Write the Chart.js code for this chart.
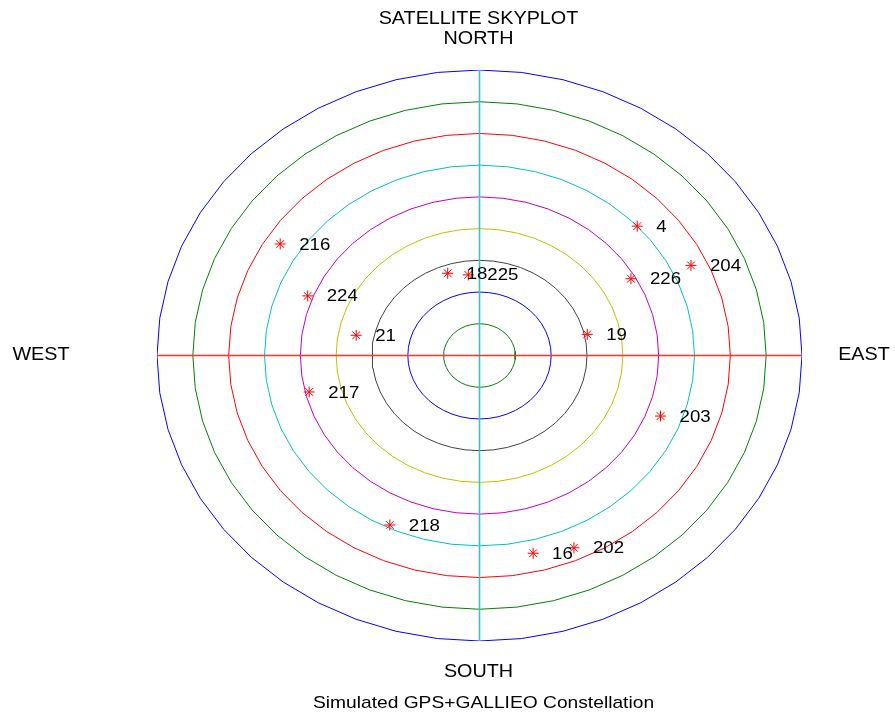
<!DOCTYPE html>
<html>
<head>
<meta charset="utf-8">
<script src="https://cdn.jsdelivr.net/npm/chart.js@4/dist/chart.umd.min.js"></script>
<style>
  html, body { margin: 0; padding: 0; background: #ffffff; }
  canvas { display: block; }
</style>
</head>
<body>
<canvas id="sky" width="895" height="715"></canvas>
<script>
// Satellite PRNs with azimuth (deg from north, clockwise) and elevation (deg)
const satIds      = ['216', '224', '21', '18', '225', '4', '204', '226', '19', '217', '218', '203', '16', '202'];
const satAzimuth  = [302.3, 291.4, 280.5, 341.1, 353.0, 47.2, 64.3, 60.2, 77.5, 256.4, 205.1, 110.7, 166.5, 156.5];
const satElevation= [24.2, 38.5, 55.0, 62.6, 64.4, 30.0, 24.5, 41.3, 59.2, 41.1, 31.0, 36.0, 25.9, 23.9];

// Elevation rings, from zenith outwards (ring radius = 90 - elevation, in tens of degrees)
const ringElevations = [80, 70, 60, 50, 40, 30, 20, 10, 0];
const ringColors = ['#008000', '#0000ff', '#404040', '#c0c000', '#c000c0', '#00c0c0', '#ff0000', '#008000', '#0000ff'];

// Compass axes: east-west and north-south, in plot units
const axisLines = [
  { x: [-9, 9], y: [0, 0], color: '#ff3030' },
  { x: [0, 0], y: [-9, 9], color: '#30c8c8' }
];

const STRETCH = 1.13; // horizontal stretch of the whole plot (ellipses and text)

function toXY(az, el) {
  const r = (90 - el) / 10;
  const a = az * Math.PI / 180;
  return { x: r * Math.sin(a), y: r * Math.cos(a) };
}

const datasets = [];
ringElevations.forEach((el, i) => {
  const pts = [];
  for (let az = 0; az < 360; az += 7.5) pts.push(toXY(az, el));
  pts.push(pts[0]);
  datasets.push({
    data: pts, showLine: true, borderColor: ringColors[i], backgroundColor: ringColors[i],
    borderWidth: 1, pointRadius: 0, fill: false, tension: 0, order: 3
  });
});
axisLines.forEach(a => {
  datasets.push({
    data: [{ x: a.x[0], y: a.y[0] }, { x: a.x[1], y: a.y[1] }],
    showLine: true, borderColor: a.color, backgroundColor: a.color,
    borderWidth: 1.6, pointRadius: 0, fill: false, order: 2
  });
});
// Satellites, drawn on top
datasets.push({
  data: satAzimuth.map((az, i) => toXY(az, satElevation[i])),
  showLine: false, pointStyle: 'star', pointRadius: 5.5, borderColor: '#ff0000',
  pointBorderColor: '#ff0000', pointBorderWidth: 1, pointBackgroundColor: '#ff0000', order: 1
});
const satIndex = datasets.length - 1;

function stretchedText(ctx, text, x, y, align, size) {
  ctx.save();
  ctx.font = size + 'px "Liberation Sans", Arial, sans-serif';
  ctx.fillStyle = '#000000';
  ctx.textBaseline = 'middle';
  ctx.translate(x, y);
  ctx.scale(STRETCH, 1);
  const w = ctx.measureText(text).width;
  const dx = align === 'center' ? -w / 2 : 0;
  ctx.textAlign = 'left';
  ctx.fillText(text, dx, 0);
  ctx.restore();
}

const labelsPlugin = {
  id: 'skyLabels',
  afterDatasetsDraw(chart) {
    const ctx = chart.ctx, sx = chart.scales.x, sy = chart.scales.y;
    const meta = chart.getDatasetMeta(satIndex);
    meta.data.forEach((pt, i) => {
      stretchedText(ctx, satIds[i], pt.x + 19, pt.y + 1, 'left', 16.5);
    });
    const cx = sx.getPixelForValue(0);
    const cy = sy.getPixelForValue(0);
    stretchedText(ctx, 'SATELLITE SKYPLOT', cx - 1, 19, 'center', 17.5);
    stretchedText(ctx, 'NORTH', cx - 1, 39, 'center', 17.5);
    stretchedText(ctx, 'WEST', 41, cy, 'center', 17.5);
    stretchedText(ctx, 'EAST', 864, cy, 'center', 17.5);
    stretchedText(ctx, 'SOUTH', cx - 1, 672, 'center', 17.5);
    stretchedText(ctx, 'Simulated GPS+GALLIEO Constellation', cx + 4, 703, 'center', 17);
  }
};

new Chart(document.getElementById('sky'), {
  type: 'scatter',
  data: { datasets },
  options: {
    responsive: false,
    animation: false,
    layout: { padding: { left: 157, right: 93, top: 70, bottom: 74 } },
    plugins: { legend: { display: false }, tooltip: { enabled: false }, title: { display: false } },
    scales: {
      x: { type: 'linear', min: -9, max: 9, display: false },
      y: { type: 'linear', min: -9, max: 9, display: false }
    }
  },
  plugins: [labelsPlugin]
});
</script>
</body>
</html>
